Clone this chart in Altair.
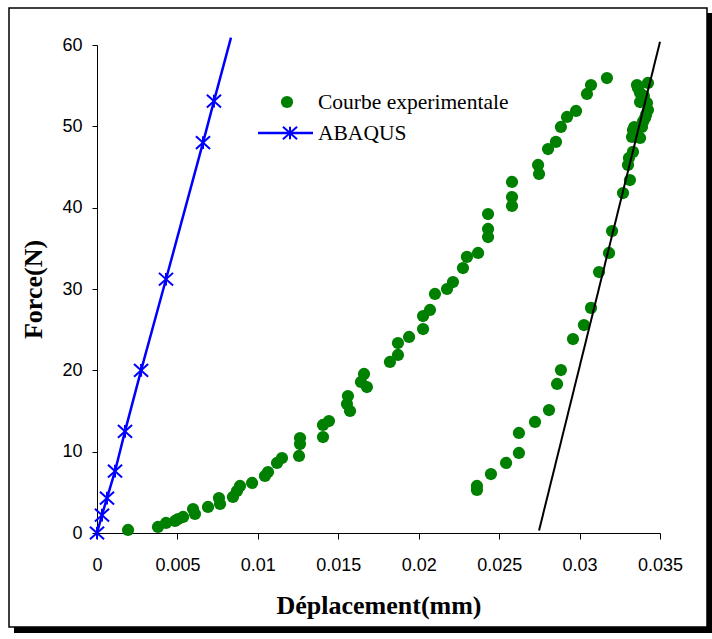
import altair as alt
import pandas as pd

# Experimental curve (Courbe experimentale): displacement (mm), force (N)
exp_x = [0.00193, 0.00379, 0.00429, 0.00485, 0.00504, 0.00535, 0.00597, 0.00609, 0.00690, 0.00758,
         0.00765, 0.00845, 0.00870, 0.00889, 0.00964, 0.01044, 0.01063, 0.01119, 0.01150, 0.01256,
         0.01262, 0.01262, 0.01405, 0.01405, 0.01442, 0.01554, 0.01560, 0.01573, 0.01641, 0.01660,
         0.01678, 0.01821, 0.01871, 0.01871, 0.01940, 0.02027, 0.02027, 0.02070, 0.02101, 0.02176,
         0.02213, 0.02275, 0.02300, 0.02369, 0.02431, 0.02431, 0.02431, 0.02580, 0.02580, 0.02580,
         0.02748, 0.02742, 0.02804, 0.02853, 0.02884, 0.02922, 0.02978, 0.03046, 0.03071, 0.03170,
         0.03357, 0.03425, 0.03376, 0.03376, 0.03419, 0.03425, 0.03407, 0.03332, 0.03326, 0.03376,
         0.03345, 0.03388, 0.03332, 0.03307, 0.03301, 0.03313, 0.03270, 0.03202, 0.03183, 0.03121,
         0.03071, 0.03027, 0.02959, 0.02884, 0.02860, 0.02810, 0.02723, 0.02623, 0.02623, 0.02543,
         0.02449, 0.02362, 0.02362, 0.03400, 0.03363, 0.03413, 0.03395, 0.03340]
exp_y = [0.37, 0.74, 1.23, 1.48, 1.72, 1.97, 2.95, 2.34, 3.20, 4.30,
         3.57, 4.43, 5.16, 5.78, 6.15, 7.01, 7.50, 8.61, 9.22, 9.47,
         10.94, 11.68, 11.80, 13.28, 13.77, 15.86, 16.84, 15.00, 18.57, 19.55,
         17.95, 21.03, 21.89, 23.36, 24.10, 25.08, 26.68, 27.42, 29.39, 30.00,
         30.86, 32.58, 33.94, 34.43, 36.39, 37.38, 39.22, 40.21, 41.31, 43.16,
         44.14, 45.25, 47.21, 48.08, 49.92, 51.15, 51.89, 53.98, 55.08, 55.94,
         55.08, 55.33, 54.10, 52.99, 52.87, 52.01, 51.03, 49.55, 48.69, 48.57,
         49.18, 49.92, 46.85, 46.11, 45.25, 43.40, 41.80, 37.13, 34.43, 32.09,
         27.67, 25.57, 23.85, 20.04, 18.32, 15.12, 13.65, 12.30, 9.84, 8.61,
         7.25, 5.78, 5.29, 53.73, 54.72, 51.40, 50.60, 49.90]

# ABAQUS simulation
abaqus_x = [0.0, 0.00031, 0.00062, 0.00112, 0.00174, 0.00274, 0.00429, 0.00659, 0.00727]
abaqus_y = [0.0, 2.2, 4.3, 7.6, 12.5, 20.0, 31.2, 48.0, 53.1]
abaqus_tail_x = [0.00833]
abaqus_tail_y = [60.9]

# Elastic unloading fit line
fit_x = [0.02748, 0.035]
fit_y = [0.3, 60.4]

x_ticks = [0, 0.005, 0.01, 0.015, 0.02, 0.025, 0.03, 0.035]
y_ticks = [0, 10, 20, 30, 40, 50, 60]
legend_labels = ["Courbe experimentale", "ABAQUS"]
x_title = "Déplacement(mm)"
y_title = "Force(N)"

W, H = 563, 488
PAD_L, PAD_T = 97, 45

exp_df = pd.DataFrame({"x": exp_x, "y": exp_y})
ab_df = pd.DataFrame({"x": abaqus_x, "y": abaqus_y})
ab_line_df = pd.DataFrame({"x": abaqus_x + abaqus_tail_x, "y": abaqus_y + abaqus_tail_y})
fit_df = pd.DataFrame({"x": fit_x, "y": fit_y})
one = alt.Data(values=[{"k": 1}])

xenc = alt.X("x:Q", scale=alt.Scale(domain=[0, 0.035], nice=False, zero=False),
             axis=alt.Axis(values=x_ticks, format="~g", title=x_title, tickSize=6,
                           labelPadding=17, labelFlush=False, labelOverlap=False,
                           titleX=W / 2, titleY=72,
                           titleBaseline="middle", titleAlign="center"))
yenc = alt.Y("y:Q", scale=alt.Scale(domain=[0, 60], nice=False),
             axis=alt.Axis(values=y_ticks, title=y_title, tickSize=5, labelPadding=10,
                           labelFlush=False, labelOverlap=False,
                           titleAngle=-90, titleX=-64, titleY=H / 2,
                           titleBaseline="middle", titleAlign="center"))

STAR = "M-1,-0.9L1,0.9M-1,0.9L1,-0.9M0,-0.9L0,0.9"

frame = alt.Chart(one).mark_rect(fill=None, stroke="black", strokeWidth=1.5).encode(
    x=alt.value(-88), x2=alt.value(610), y=alt.value(-37), y2=alt.value(582))
shadow_r = alt.Chart(one).mark_rect(fill="black").encode(
    x=alt.value(610), x2=alt.value(615), y=alt.value(-32), y2=alt.value(588))
shadow_b = alt.Chart(one).mark_rect(fill="black").encode(
    x=alt.value(-83), x2=alt.value(615), y=alt.value(582), y2=alt.value(588))

pts = alt.Chart(exp_df).mark_circle(color="#008000", size=150, opacity=1).encode(x=xenc, y=yenc)
fit = alt.Chart(fit_df).mark_line(color="black", strokeWidth=2).encode(x=xenc, y=yenc)
ab_line = alt.Chart(ab_line_df).mark_line(color="#0000FF", strokeWidth=2.5).encode(x=xenc, y=yenc)
ab_pts = alt.Chart(ab_df).mark_point(shape=STAR, size=200, color="#0000FF", filled=False,
                                     strokeWidth=2, opacity=1).encode(x=xenc, y=yenc)

# legend
leg_dot = alt.Chart(one).mark_circle(color="#008000", size=150, opacity=1).encode(
    x=alt.value(190), y=alt.value(57))
leg_txt1 = alt.Chart(one).mark_text(align="left", baseline="middle", font="Liberation Serif",
                                    fontSize=21.5, color="black").encode(
    x=alt.value(221), y=alt.value(58), text=alt.value(legend_labels[0]))
leg_line = alt.Chart(one).mark_rule(color="#0000FF", strokeWidth=2.5).encode(
    x=alt.value(161), x2=alt.value(216), y=alt.value(88))
leg_star = alt.Chart(one).mark_point(shape=STAR, size=200, color="#0000FF", filled=False,
                                     strokeWidth=2, opacity=1).encode(
    x=alt.value(193), y=alt.value(88))
leg_txt2 = alt.Chart(one).mark_text(align="left", baseline="middle", font="Liberation Serif",
                                    fontSize=21.5, color="black").encode(
    x=alt.value(221), y=alt.value(89), text=alt.value(legend_labels[1]))

chart = alt.layer(
    shadow_r, shadow_b, frame, pts, fit, ab_line, ab_pts,
    leg_dot, leg_txt1, leg_line, leg_star, leg_txt2
).properties(
    width=W, height=H,
    autosize=alt.AutoSizeParams(type="none"),
    padding={"left": PAD_L, "top": PAD_T, "right": 712 - PAD_L - W, "bottom": 639 - PAD_T - H},
    background="white",
).configure_view(stroke=None).configure_axis(
    grid=False, domainColor="black", tickColor="black", labelColor="black",
    labelFont="Liberation Sans", labelFontSize=18, domainWidth=1, tickWidth=1,
    titleFont="Liberation Serif", titleFontSize=26, titleFontWeight="bold", titleColor="black"
)

chart.save("out.html", embed_options={"renderer": "svg", "actions": False})
